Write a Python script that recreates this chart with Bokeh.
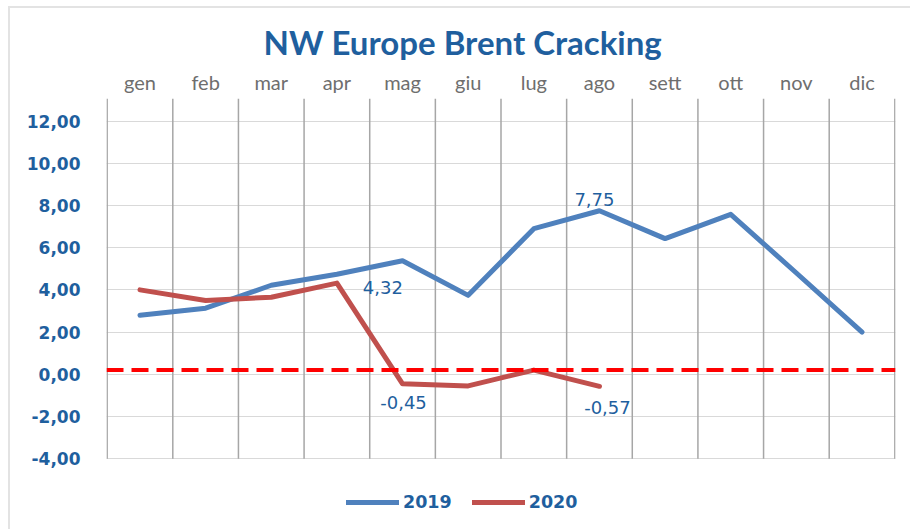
from bokeh.plotting import figure
from bokeh.models import Range1d, FixedTicker, Legend, LegendItem, Span
from bokeh.core.properties import value
from bokeh.embed import file_html
from bokeh.resources import INLINE

# ---------------- data ----------------
months = ["gen", "feb", "mar", "apr", "mag", "giu", "lug", "ago", "sett", "ott", "nov", "dic"]
y2019 = [2.80, 3.13, 4.22, 4.74, 5.38, 3.74, 6.90, 7.75, 6.43, 7.58, 4.80, 2.00]
y2020 = [4.00, 3.50, 3.65, 4.32, -0.45, -0.55, 0.20, -0.57]
y_ticks = [-4, -2, 0, 2, 4, 6, 8, 10, 12]
y_tick_labels = ["-4,00", "-2,00", "0,00", "2,00", "4,00", "6,00", "8,00", "10,00", "12,00"]
zero_line_value = 0.2
# labelled points: (series, month index)
labelled = [("2020", 3), ("2020", 4), ("2019", 7), ("2020", 7)]

# ---------------- style ----------------
BLUE = "#4F81BD"
RED = "#C0504D"
TEXT_BLUE = "#1F5F9E"
W, H = 900, 521           # canvas (page offset 10, 8 by css margin + border)
MB_LEFT, MB_TOP = 96, 90
FRAME_W = 789
FRAME_H = H - MB_TOP
PX_PER_UNIT = 21.1
Y_TOP = 13.07
Y_BOTTOM = Y_TOP - FRAME_H / PX_PER_UNIT

p = figure(width=W, height=H, frame_width=FRAME_W, frame_height=FRAME_H,
           x_range=Range1d(-0.51, len(months) - 0.49), y_range=Range1d(Y_BOTTOM, Y_TOP),
           x_axis_location="above", output_backend="svg", toolbar_location=None,
           min_border_left=MB_LEFT, min_border_top=MB_TOP,
           min_border_right=W - MB_LEFT - FRAME_W, min_border_bottom=0,
           title="NW Europe Brent Cracking")
p.styles = {"margin-left": "8px", "margin-top": "6px",
            "border-left": "2px solid #E3E3E3", "border-top": "2px solid #E3E3E3"}
p.outline_line_color = None
p.background_fill_color = "white"
p.border_fill_color = "white"

p.title.align = "left"
p.title.offset = 157
p.title.text_font = "Lato"
p.title.text_font_size = "33px"
p.title.text_font_style = "bold"
p.title.text_color = TEXT_BLUE
p.title.standoff = 10

# top category axis
xa = p.xaxis[0]
xa.ticker = FixedTicker(ticks=list(range(len(months))))
xa.major_label_overrides = {i: m for i, m in enumerate(months)}
xa.axis_line_color = None
xa.major_tick_line_color = None
xa.minor_tick_line_color = None
xa.major_label_text_font = "Lato"
xa.major_label_text_font_size = "20px"
xa.major_label_text_color = "#6E6E6E"
xa.major_label_standoff = -1

# left value axis
ya = p.yaxis[0]
ya.ticker = FixedTicker(ticks=y_ticks)
ya.major_label_overrides = {t: l for t, l in zip(y_ticks, y_tick_labels)}
ya.axis_line_color = None
ya.major_tick_line_color = None
ya.minor_tick_line_color = None
ya.major_label_text_font = "DejaVu Sans"
ya.major_label_text_font_style = "bold"
ya.major_label_text_font_size = "17px"
ya.major_label_text_color = TEXT_BLUE
ya.major_label_standoff = 20

# grids: horizontal value grid, vertical category separators down to the axis minimum
p.xgrid.visible = False
p.ygrid.grid_line_color = "#D9D9D9"
p.ygrid.grid_line_width = 1
bounds = [i - 0.5 for i in range(len(months) + 1)]
p.segment(x0=bounds, y0=[y_ticks[0]] * len(bounds), x1=bounds, y1=[Y_TOP] * len(bounds),
          line_color="#A6A6A6", line_width=1.5)

# lines
x_all = list(range(len(months)))
r19 = p.line(x_all, y2019, line_color=BLUE, line_width=5, line_cap="round", line_join="round")
r20 = p.line(x_all[:len(y2020)], y2020, line_color=RED, line_width=5, line_cap="round", line_join="round")

# data labels
series = {"2019": y2019, "2020": y2020}
lab_offsets = [(46, 4), (1, 19), (-5, -11), (8, 21)]
for (s, i), (dx, dy) in zip(labelled, lab_offsets):
    v = series[s][i]
    txt = f"{v:.2f}".replace(".", ",")
    p.text(x=[i], y=[v], text=[txt], x_offset=dx, y_offset=dy,
           text_align="center", text_baseline="middle",
           text_font=value("DejaVu Sans"), text_font_size="18px", text_color=TEXT_BLUE)

# red dashed reference line
p.add_layout(Span(location=zero_line_value, dimension="width", line_color="#FF0000",
                  line_width=4, line_dash="17 8"))

# legend, below the value grid
legend = Legend(items=[LegendItem(label="2019", renderers=[r19]),
                       LegendItem(label="2020", renderers=[r20])],
                orientation="horizontal", location=(240, 17))
legend.label_text_font = "DejaVu Sans"
legend.label_text_font_style = "bold"
legend.label_text_font_size = "17.5px"
legend.label_text_color = TEXT_BLUE
legend.glyph_width = 53
legend.glyph_height = 18
legend.label_standoff = 4
legend.spacing = 20
legend.border_line_color = None
legend.background_fill_alpha = 0
legend.margin = 0
legend.padding = 4
p.add_layout(legend)

open("out.html", "w").write(file_html(p, INLINE))
